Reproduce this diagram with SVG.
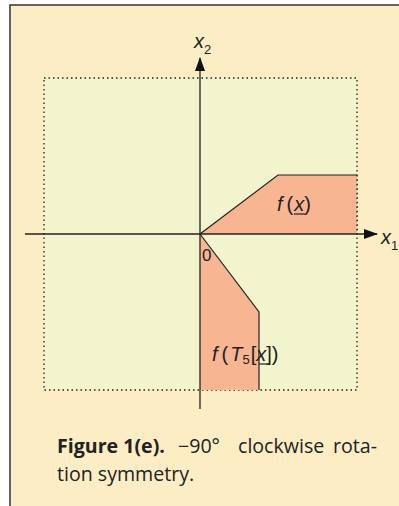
<svg xmlns="http://www.w3.org/2000/svg" width="399" height="506" viewBox="0 0 399 506">
<style>
.lbl{font-family:"Liberation Sans",Arial,sans-serif;font-style:italic;fill:#222}
.up{font-family:"Liberation Sans",Arial,sans-serif;font-style:normal;fill:#222}
.cap{font-family:"Open Sans","DejaVu Sans",sans-serif;font-size:19.6px;fill:#222}
.ax{stroke:#222;stroke-width:1.3;fill:none}
</style>
<defs>
<marker id="ah" markerWidth="14" markerHeight="10" refX="13" refY="5" orient="auto" markerUnits="userSpaceOnUse">
<path d="M0,0 L14,5 L0,10 Z" fill="#111"/>
</marker>
</defs>
<rect x="10" y="5" width="400" height="510" fill="#FDEDC5" stroke="#333" stroke-width="1.5"/>
<g id="region">
<rect x="44" y="78" width="313" height="312" fill="#F1F4CD" stroke="#222" stroke-width="1.3" stroke-dasharray="1.5,3"/>
</g>
<g id="fx">
<polygon points="200,234 278,175 357,175 357,234" fill="#F8B592"/>
<polyline points="200,234 278,175 357,175" fill="none" stroke="#222" stroke-width="1.2"/>
<line x1="357" y1="175" x2="357" y2="234" stroke="#222" stroke-width="1.3" stroke-dasharray="1.5,3"/>
<text class="lbl" x="277" y="211" font-size="20">f<tspan class="up" dx="4">(</tspan><tspan dx="1">x</tspan><tspan class="up">)</tspan></text>
<line x1="294" y1="214" x2="305" y2="214" stroke="#222" stroke-width="1.2"/>
</g>
<g id="fT5x">
<polygon points="200,234 259,312 259,390 200,390" fill="#F8B592"/>
<polyline points="200,234 259,312 259,390" fill="none" stroke="#222" stroke-width="1.2"/>
<text class="lbl" x="212" y="361" font-size="20">f<tspan class="up" dx="4">(</tspan><tspan dx="2">T</tspan><tspan class="up" font-size="13" dy="3">5</tspan><tspan class="up" dy="-3" dx="1">[</tspan><tspan>x</tspan><tspan class="up">])</tspan></text>
<line x1="259" y1="364" x2="270" y2="364" stroke="#222" stroke-width="1.2"/>
</g>
<g id="connectors">
<line class="ax" x1="25" y1="234" x2="377" y2="234" marker-end="url(#ah)"/>
<line class="ax" x1="200" y1="409" x2="200" y2="58" marker-end="url(#ah)"/>
</g>
<g id="labels">
<text class="lbl" x="194" y="48" font-size="20">x<tspan class="up" font-size="13" dy="6">2</tspan></text>
<text class="lbl" x="381" y="244" font-size="20">x<tspan class="up" font-size="13" dy="6">1</tspan></text>
<text class="up" x="202" y="261" font-size="17">0</text>
</g>
<g id="caption">
<text class="cap" y="453"><tspan x="57" font-weight="bold">Figure 1(e).</tspan><tspan x="178">−90°</tspan><tspan x="238">clockwise</tspan><tspan x="333">rota-</tspan></text>
<text class="cap" x="57" y="481">tion symmetry.</text>
</g>
</svg>
